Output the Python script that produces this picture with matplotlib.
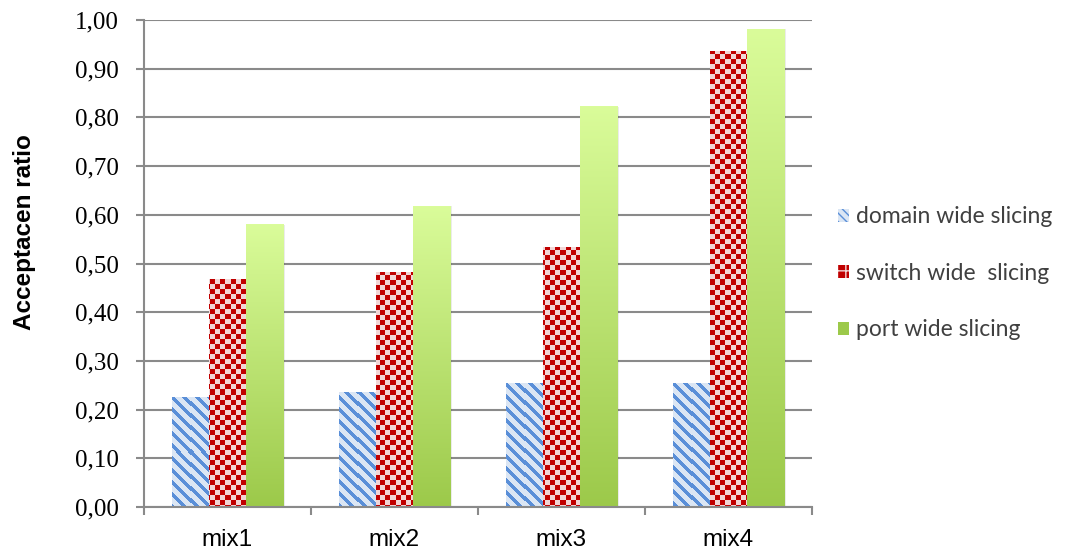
import matplotlib.pyplot as plt
import numpy as np
from matplotlib.patches import Patch

categories = ['mix1', 'mix2', 'mix3', 'mix4']
domain_wide = [0.224, 0.236, 0.254, 0.254]
switch_wide = [0.467, 0.482, 0.533, 0.935]
port_wide = [0.580, 0.618, 0.822, 0.981]
series_labels = ['domain wide slicing', 'switch wide  slicing', 'port wide slicing']
yticks = np.arange(0, 1.01, 0.1)

fig = plt.figure(figsize=(10.68, 5.54), dpi=100)
ax = fig.add_axes([0.1348, 0.0848, 0.6255, 0.8791])

x = np.arange(len(categories))
w = 0.222
bars_d = ax.bar(x - w, domain_wide, w, color='none', linewidth=0)
bars_s = ax.bar(x, switch_wide, w, color='none', linewidth=0)
bars_p = ax.bar(x + w, port_wide, w, color='none', linewidth=0)

ax.set_xlim(-0.5, len(categories) - 0.5)
ax.set_ylim(0, 1.0)

grid_c = '#8a8a8a'
ax.set_axisbelow(True)
ax.yaxis.grid(True, color=grid_c, linewidth=1.5)
for s in ['top', 'right']:
    ax.spines[s].set_visible(False)
for s in ['left', 'bottom']:
    ax.spines[s].set_color(grid_c)
    ax.spines[s].set_linewidth(1.5)

ax.set_yticks(yticks)
ax.set_yticklabels([('%.2f' % v).replace('.', ',') for v in yticks],
                   fontfamily='Liberation Serif', fontsize=18)
ax.set_xticks(x)
ax.set_xticklabels(categories, fontfamily='Liberation Sans', fontsize=17.5)
ax.set_xticks(np.arange(-0.5, len(categories)), minor=True)
ax.tick_params(axis='y', direction='out', length=6, width=1.5, color=grid_c, pad=12)
ax.tick_params(axis='x', which='major', length=0, pad=16)
ax.tick_params(axis='x', which='minor', direction='out', length=6, width=1.5, color=grid_c)

ax.set_ylabel('Acceptacen ratio', fontfamily='Liberation Sans', fontweight='bold',
              fontsize=17.5)
ax.yaxis.set_label_coords(-0.162, 0.565)

fig.canvas.draw()
H = fig.bbox.height


def hex2rgb(h):
    h = h.lstrip('#')
    return np.array([int(h[i:i + 2], 16) / 255 for i in (0, 2, 4)])


def texture(bar, kind):
    bb = bar.get_window_extent()
    x0 = int(round(bb.x0))
    wpx = max(int(round(bb.width)), 1)
    top = int(round(H - bb.y1))
    hpx = max(int(round(bb.height)), 1)
    cols = np.arange(x0, x0 + wpx)[None, :]
    rows = np.arange(top, top + hpx)[:, None]
    img = np.zeros((hpx, wpx, 3))
    if kind == 'stripe':
        dark = hex2rgb('#5a8fd8')
        light = hex2rgb('#dbe6f4')
        m = ((cols - rows) % 12) < 5
        img[:] = light
        img[np.broadcast_to(m, (hpx, wpx))] = dark
    elif kind == 'check':
        red = hex2rgb('#c00000')
        pink = hex2rgb('#f2d6d6')
        m = ((cols // 5) + (rows // 5)) % 2 == 0
        img[:] = pink
        img[np.broadcast_to(m, (hpx, wpx))] = red
    else:
        top_c = hex2rgb('#dafc9a')
        bot_c = hex2rgb('#9cc94a')
        t = np.linspace(0, 1, hpx)[:, None, None]
        img[:] = top_c * (1 - t) + bot_c * t
    bx, by = bar.get_x(), bar.get_y()
    ax.imshow(img, extent=(bx, bx + bar.get_width(), by, by + bar.get_height()),
              aspect='auto', interpolation='nearest', zorder=2)


for group, kind in [(bars_d, 'stripe'), (bars_s, 'check'), (bars_p, 'grad')]:
    for bar in group:
        # soft shadow on the right of each bar
        ax.bar(bar.get_x() + bar.get_width() / 2 + 0.012, bar.get_height(), bar.get_width(),
               color='#000000', alpha=0.08, linewidth=0, zorder=1.5)
        texture(bar, kind)

ax.set_xlim(-0.5, len(categories) - 0.5)
ax.set_ylim(0, 1.0)

handles = [
    Patch(facecolor='#dbe6f4', edgecolor='#5a8fd8', hatch='\\\\\\\\', linewidth=0),
    Patch(facecolor='#c00000', edgecolor='#f2d6d6', hatch='++', linewidth=0),
    Patch(facecolor='#9cc94a', linewidth=0),
]
leg = ax.legend(handles, series_labels, loc='center left', bbox_to_anchor=(1.008, 0.48),
                frameon=False, prop={'family': 'Lato', 'size': 16.5},
                handlelength=0.5, handleheight=0.5, handletextpad=0.3, labelspacing=1.55)
for t in leg.get_texts():
    t.set_color('#404040')

fig.savefig('out.png', dpi=100)
